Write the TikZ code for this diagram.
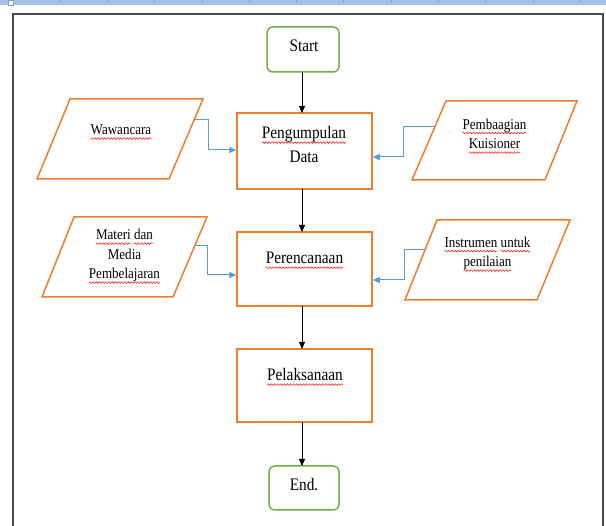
\documentclass[tikz,border=0pt]{standalone}
\usepackage{fontspec}
\setmainfont{Liberation Serif}[FakeStretch=0.87]
\usetikzlibrary{arrows.meta,decorations.pathmorphing}
\definecolor{boxor}{HTML}{ED7D31}
\definecolor{boxgr}{HTML}{70AD47}
\definecolor{lnblue}{HTML}{5B9BD5}
\definecolor{barblue}{HTML}{A6C0E5}
\definecolor{tickblue}{HTML}{7F9CC8}
\newsavebox\sqbox
\newlength\sqw
\newcommand\sq[1]{\sbox\sqbox{#1}\setlength\sqw{\wd\sqbox}%
  \rlap{\tikz[overlay,x=1pt,y=1pt,baseline=0pt]\draw[red!85!white,line width=0.6pt,decorate,decoration={snake,amplitude=0.8pt,segment length=3.2pt}] (0pt,-3.6pt) -- (\sqw,-3.6pt);}%
  \usebox\sqbox}
\begin{document}
\begin{tikzpicture}[x=1pt,y=-1pt,
  procbox/.style={draw=boxor, line width=1.5pt, minimum width=135pt, inner sep=0pt},
  termbox/.style={draw=boxgr, line width=1.5pt, rounded corners=6pt, inner sep=0pt},
  iobox/.style={draw=boxor, line width=1.5pt, line join=miter},
  bigtxt/.style={font=\fontsize{17.6}{24}\selectfont, align=center, anchor=base, inner sep=0pt},
  smalltxt/.style={font=\fontsize{15}{19.5}\selectfont, align=center, anchor=base, inner sep=0pt},
  flow/.style={-{Triangle[length=7pt,width=6pt]}, line width=0.8pt},
  feed/.style={-{Triangle[length=7pt,width=6pt]}, draw=lnblue, line width=1pt}]
\clip (0,0) rectangle (606,526);
\fill[white] (0,0) rectangle (606,526);
% top ruler bar
\fill[barblue] (0,0) rectangle (606,5);
\foreach \tx in {60,107.3,154.6,201.9,249.2,296.5,343.8,391.1,438.4,485.7,533,580.3}
  \draw[tickblue, line width=0.8pt] (\tx,0) -- (\tx,2);
\draw[tickblue, fill=white, line width=0.6pt] (8,0.5) rectangle (13,5);
% page frame
\draw[line width=1.5pt, draw=black!70] (13,14) rectangle (603,540);

% terminals and process boxes
\node[termbox, minimum width=72pt, minimum height=45pt] (start) at (303,49.5) {};
\node[procbox, minimum height=76pt] (pd) at (304.5,151) {};
\node[procbox, minimum height=74pt] (pr) at (304.5,269) {};
\node[procbox, minimum height=73pt] (pl) at (304.5,385.5) {};
\node[termbox, minimum width=70pt, minimum height=44pt] (end) at (304,488) {};

% text nodes: anchor=base is the baseline of the last line
\node[bigtxt] (tstart) at (304,52) {Start};
\node[bigtxt] (tpd) at (304,163) {\sq{Pengumpulan}\\Data};
\node[bigtxt] (tpr) at (304.5,264) {\sq{Perencanaan}};
\node[bigtxt] (tpl) at (305,381) {\sq{Pelaksanaan}};
\node[bigtxt] (tend) at (304,491) {End.};

% input parallelograms
\draw[iobox] (70,99) -- (203,99) -- (169,179) -- (37,179) -- cycle;
\draw[iobox] (446,101) -- (577,101) -- (545,180) -- (412,180) -- cycle;
\draw[iobox] (74,217) -- (207,217) -- (173,297) -- (42,297) -- cycle;
\draw[iobox] (437,220) -- (570,220) -- (537,300) -- (405,300) -- cycle;

\node[smalltxt] (tw) at (121,135) {\sq{Wawancara}};
\node[smalltxt] (tk) at (494.5,149) {\sq{Pembaagian}\\\sq{Kuisioner}};
\node[smalltxt] (tm) at (124.5,279) {\sq{Materi} \sq{dan}\\Media\\\sq{Pembelajaran}};
\node[smalltxt] (ti) at (487.5,267) {\sq{Instrumen} \sq{untuk}\\\sq{penilaian}};

\coordinate (wout) at (194.5,120);
\coordinate (kout) at (434.5,127);
\coordinate (mout) at (195,246);
\coordinate (iout) at (425,250);

% main flow
\draw[flow] (302,72) -- (302,113);
\draw[flow] (302,189) -- (302,232);
\draw[flow] (302,306) -- (302,349);
\draw[flow] (302,422) -- (302,466);

% feeds
\draw[feed] (wout) -- ++(13.5,0) |- ([yshift=1pt]pd.west);
\draw[feed] (kout) -- ++(-31.5,0) |- ([yshift=-6pt]pd.east);
\draw[feed] (mout) -- ++(12,0) |- ([yshift=-6pt]pr.west);
\draw[feed] (iout) -- ++(-21,0) |- ([yshift=-11pt]pr.east);
\end{tikzpicture}
\end{document}
